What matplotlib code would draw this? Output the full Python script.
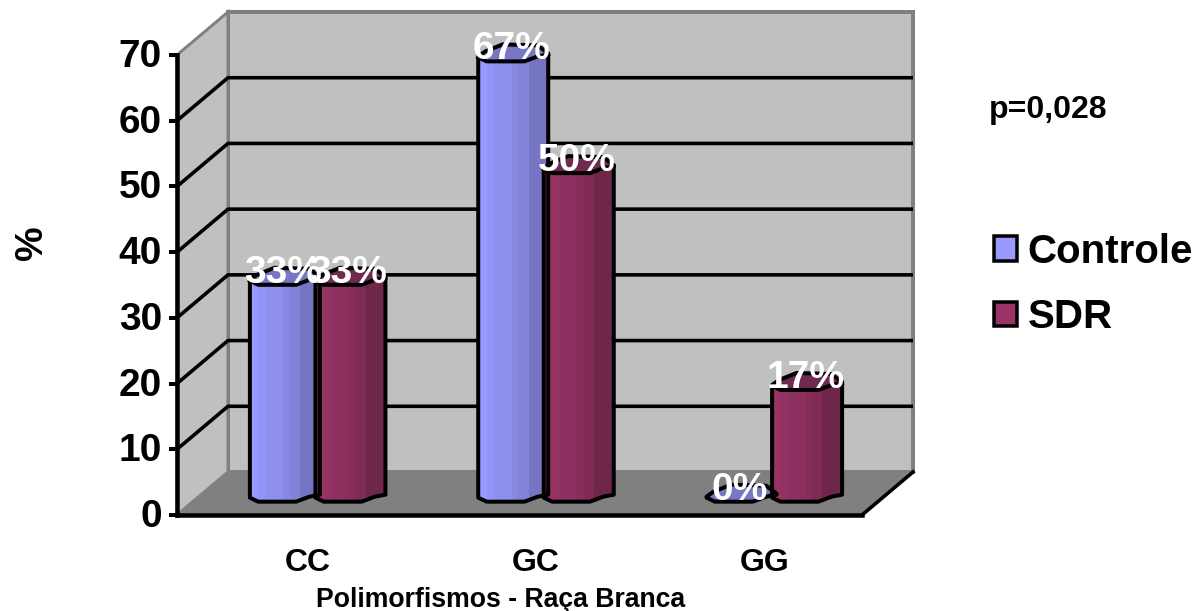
import numpy as np
import matplotlib
matplotlib.use('Agg')
import matplotlib.pyplot as plt
from matplotlib.patches import Patch, Polygon
from matplotlib.transforms import ScaledTranslation

plt.rcParams['font.family'] = ['Liberation Sans', 'DejaVu Sans']
plt.rcParams['font.weight'] = 'bold'

categories = ['CC', 'GC', 'GG']
controle = [33, 67, 0]
sdr = [33, 50, 17]
controle_labels = ['33%', '67%', '0%']
sdr_labels = ['33%', '50%', '17%']
y_ticks = [0, 10, 20, 30, 40, 50, 60, 70]
grid_values = [10, 20, 30, 40, 50, 60]

W, H = 1198, 611
PX = 72 / 100  # points per pixel at dpi 100
UX = 3 / 685   # x data units per pixel
UY = 70 / 460  # y data units per pixel

# depth of the 3d box, in data units
DX = 51 * UX
DY = 43 * UY
BAR_D = 0.31
BAR_W = 70 * UX

# facets of the cylinders: left edge, right edge (fraction of width)
facets = [(0, .12), (.12, .22), (.22, .48), (.48, .57), (.57, .72), (.72, 1)]
blues = ['#9999FF', '#9494F7', '#8F8FEE', '#8888E2', '#8282D8', '#7575C3']
reds = ['#993366', '#943263', '#8D2F5F', '#872D5A', '#7F2B55', '#6E2649']
caps = {'Controle': '#7777C4', 'SDR': '#6E2A4F'}

# outline of the front edge and back edge of a cap: fraction of width, px up
front_edge = [(0, 4), (.12, 0), (.66, 0), (.85, 5), (1, 7)]
back_edge = [(1, 8), (.85, 16), (.35, 17), (.1, 10), (0, 5)]


def depth(x, v, d):
	return x + d * DX, v + d * DY


def cap_points(x, v, edge):
	x0, y0 = depth(x, v, BAR_D)
	return [(x0 + f * BAR_W, y0 + up * UY) for f, up in edge]


def draw_bar(ax, x, v, colors, cap_color):
	base = cap_points(x, 0, front_edge)
	top = cap_points(x, v, front_edge)
	back_top = cap_points(x, v, back_edge)
	clip = Polygon(base + top[::-1], closed=True, transform=ax.transData)
	x0, y0 = depth(x, 0, BAR_D)
	if v > 0:
		for (a, b), c in zip(facets, colors):
			r = ax.bar(x0 + a * BAR_W, v + 3, width=(b - a) * BAR_W + 0.001, bottom=y0 - 1,
				align='edge', color=c, linewidth=0, zorder=4)[0]
			r.set_clip_path(clip)
	ax.add_patch(Polygon(top + back_top, closed=True, fc=cap_color, ec='none', zorder=5, clip_on=False))
	outline = base + back_top if v > 0 else top + back_top
	ax.add_patch(Polygon(outline, closed=True, fc='none', ec='black', lw=4 * PX,
		zorder=6, clip_on=False, joinstyle='round'))
	if v > 0:
		xs, ys = zip(*top)
		ax.plot(xs, ys, color='black', lw=4 * PX, zorder=6, clip_on=False)


def draw_label(ax, x, v, text, shift):
	xb, yb = depth(x + BAR_W / 2, v, BAR_D)
	ax.annotate(text, xy=(xb, yb), xytext=(shift * PX, 12 * PX), textcoords='offset points',
		ha='center', va='center', color='white', fontsize=28, fontweight='bold',
		zorder=8, annotation_clip=False)


fig = plt.figure(figsize=(W / 100, H / 100), dpi=100)
ax = fig.add_axes([177 / W, 1 - 515 / H, 685 / W, 460 / H])
ax.set_xlim(-0.5, 2.5)
ax.set_ylim(0, 70)
ax.patch.set_visible(False)

# walls and floor
x0, x1 = -0.5, 2.5
back = [depth(x0, 0, 1), depth(x1, 0, 1), depth(x1, 70, 1), depth(x0, 70, 1)]
side = [(x0, 0), depth(x0, 0, 1), depth(x0, 70, 1), (x0, 70)]
floor = [(x0, 0), (x1, 0), depth(x1, 0, 1), depth(x0, 0, 1)]
gray = '#808080'
ax.add_patch(Polygon(back, closed=True, fc='#C0C0C0', ec=gray, lw=4 * PX, zorder=1, clip_on=False))
ax.add_patch(Polygon(side, closed=True, fc='#C0C0C0', ec=gray, lw=3 * PX, zorder=1, clip_on=False))
ax.add_patch(Polygon(floor, closed=True, fc=gray, ec=gray, lw=1.5 * PX, zorder=2, clip_on=False))

# gridlines run along the left wall and then the back wall
for v in grid_values:
	xs, ys = zip((x0, v), depth(x0, v, 1), depth(x1, v, 1))
	ax.plot(xs, ys, color='black', lw=3.6 * PX, zorder=3, clip_on=False, solid_capstyle='butt')

# dark edge of the floor on the right
xs, ys = zip((x1, 0), depth(x1, 0, 1))
ax.plot(xs, ys, color='black', lw=3.6 * PX, zorder=3, clip_on=False)

for i in range(len(categories)):
	draw_bar(ax, i - 0.25, controle[i], blues, caps['Controle'])
for i in range(len(categories)):
	draw_bar(ax, i + 0.037, sdr[i], reds, caps['SDR'])
for i in range(len(categories)):
	draw_label(ax, i - 0.25, controle[i], controle_labels[i], -2)
	draw_label(ax, i + 0.037, sdr[i], sdr_labels[i], -2)

for s in ['top', 'right']:
	ax.spines[s].set_visible(False)
for s in ['left', 'bottom']:
	ax.spines[s].set_linewidth(4.5 * PX)
	ax.spines[s].set_zorder(7)
	ax.spines[s].set_color('black')

ax.set_yticks(y_ticks)
ax.tick_params(axis='y', length=8 * PX, width=4 * PX, labelsize=28, pad=5)
for lab in ax.get_yticklabels():
	lab.set_transform(lab.get_transform() + ScaledTranslation(0, 2 / 100, fig.dpi_scale_trans))
ax.set_xticks(np.arange(len(categories)) + 0.073, categories)
ax.tick_params(axis='x', length=0, labelsize=23, pad=24)
ax.set_xlabel('Polimorfismos - Raça Branca', fontsize=19.2, fontweight='bold')
ax.xaxis.set_label_coords((501 - 177) / 685, -(600 - 515) / 460, transform=ax.transAxes)
ax.xaxis.label.set_verticalalignment('center')
ax.set_ylabel('%', fontsize=28, fontweight='bold')
ax.yaxis.set_label_coords((32 - 177) / 685, (515 - 243) / 460, transform=ax.transAxes)
ax.yaxis.label.set_verticalalignment('center')

fig.text(1048 / W, 1 - 110 / H, 'p=0,028', fontsize=23, fontweight='bold', ha='center', va='center')

handles = [Patch(fc='#9999FF', ec='black', lw=3.5 * PX, label='Controle'),
	Patch(fc='#993366', ec='black', lw=3.5 * PX, label='SDR')]
fig.legend(handles=handles, loc='upper left', bbox_to_anchor=(994 / W, 1 - 233 / H), frameon=False,
	fontsize=29, handlelength=0.56, handleheight=0.56, handletextpad=0.27, labelspacing=0.68,
	borderpad=0, borderaxespad=0)

fig.savefig('out.png', dpi=100)
